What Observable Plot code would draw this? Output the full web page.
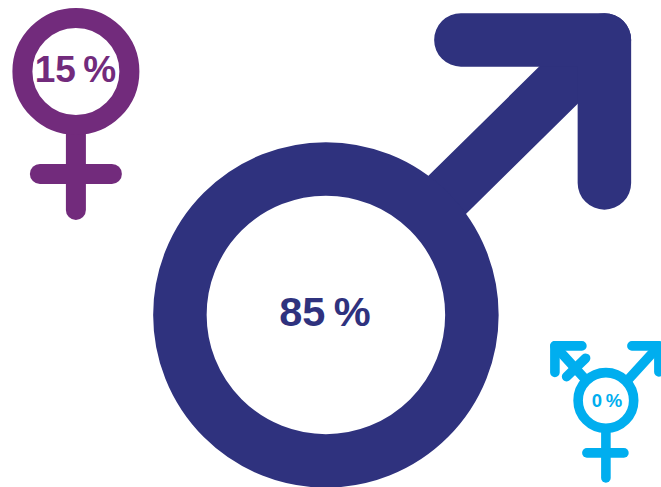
<!DOCTYPE html>
<html lang="en">
<head>
<meta charset="utf-8">
<title>Respondents by gender</title>
<script src="https://cdn.jsdelivr.net/npm/d3@7"></script>
<script src="https://cdn.jsdelivr.net/npm/@observablehq/plot@0.6"></script>
<style>
  html, body { margin: 0; padding: 0; background: #fff; overflow: hidden; }
  svg { display: block; }
</style>
</head>
<body>
<script>
// Share of each gender, in percent
const genders = ["Male", "Female", "Transgender"];
const shares = [85, 15, 0];

// Colour of each gender symbol
const palette = ["#2f327e", "#722b7c", "#00aeef"];

// Symbol layout, in chart units: ring centre and radius, stroke weight, label size
const ringX = [326, 76, 606];
const ringY = [315, 71.5, 400.5];
const ringR = [146, 53.5, 27.8];
const weight = [53.5, 20, 9.6];
const labelX = [325, 75.5, 607];
const labelY = [313, 70.5, 401];
const labelSize = [41.5, 37, 18.5];

// Strokes attached to each ring: arrows, stems and crossbars
const strokes = [
  [
    [[430, 212], [604.5, 40]],
    [[461, 40], [604.5, 40], [604.5, 183]]
  ],
  [
    [[76, 125], [76, 210]],
    [[40, 174], [112, 174]]
  ],
  [
    [[606, 428], [606, 478]],
    [[587, 453], [624, 453]],
    [[627, 381], [659, 346]],
    [[632, 346], [659, 346], [659, 372]],
    [[587, 381], [555, 346]],
    [[582, 346], [555, 346], [555, 372.5]],
    [[585.7, 358.3], [566.7, 376.7]]
  ]
];

const marks = genders.flatMap((gender, i) => {
  const points = strokes[i].flatMap((path, part) =>
    path.map(([x, y]) => ({x, y, part, gender}))
  );
  return [
    Plot.line(points, {
      x: "x", y: "y", z: "part", stroke: "gender",
      strokeWidth: weight[i], strokeLinecap: "round", strokeLinejoin: "round"
    }),
    Plot.dot([{x: ringX[i], y: ringY[i], gender}], {
      x: "x", y: "y", r: ringR[i], stroke: "gender",
      strokeWidth: weight[i], fill: "white"
    }),
    Plot.text([{x: labelX[i], y: labelY[i], gender, share: shares[i]}], {
      x: "x", y: "y", text: (d) => `${d.share}\u2009%`, fill: "gender",
      fontSize: labelSize[i], fontWeight: 700,
      fontFamily: "'Liberation Sans', Arial, sans-serif",
      textAnchor: "middle", lineAnchor: "middle"
    })
  ];
});

document.body.append(Plot.plot({
  width: 661,
  height: 487,
  margin: 0,
  // Half-unit shift cancels the crisp-edge offset Plot adds to its marks
  x: {domain: [0.6, 661.6], axis: null},
  y: {domain: [487.6, 0.6], axis: null},
  color: {domain: genders, range: palette},
  marks
}));
</script>
</body>
</html>
